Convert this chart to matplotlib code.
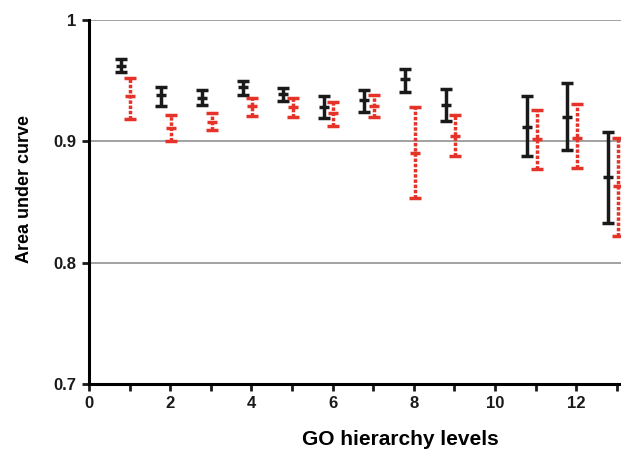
import matplotlib
matplotlib.use("Agg")
import matplotlib.pyplot as plt
import numpy as np

plt.rcParams['font.family'] = ['Liberation Sans', 'DejaVu Sans']
plt.rcParams['font.weight'] = 'bold'

# GO hierarchy levels (no level 10)
levels = [1, 2, 3, 4, 5, 6, 7, 8, 9, 11, 12, 13]

# black series: mean, lower, upper
black_mean = [0.962, 0.938, 0.936, 0.945, 0.939, 0.928, 0.934, 0.951, 0.930, 0.912, 0.920, 0.871]
black_lo = [0.957, 0.929, 0.930, 0.938, 0.933, 0.919, 0.924, 0.941, 0.917, 0.888, 0.893, 0.833]
black_hi = [0.968, 0.945, 0.942, 0.950, 0.944, 0.937, 0.942, 0.960, 0.943, 0.937, 0.948, 0.908]

# red series: mean, lower, upper
red_mean = [0.937, 0.911, 0.916, 0.929, 0.928, 0.923, 0.929, 0.890, 0.904, 0.902, 0.903, 0.863]
red_lo = [0.918, 0.900, 0.909, 0.921, 0.920, 0.913, 0.920, 0.853, 0.888, 0.877, 0.878, 0.822]
red_hi = [0.952, 0.922, 0.923, 0.936, 0.936, 0.932, 0.938, 0.928, 0.922, 0.926, 0.931, 0.903]

lv = np.array(levels, dtype=float)
bm, bl, bh = np.array(black_mean), np.array(black_lo), np.array(black_hi)
rm, rl, rh = np.array(red_mean), np.array(red_lo), np.array(red_hi)

fig = plt.figure(figsize=(6.21, 4.49), dpi=100)
ax = fig.add_axes([0.1433, 0.1448, 0.8567, 0.8107])

for y in [0.8, 0.9, 1.0]:
    ax.axhline(y, color='#9a9a9a', lw=1.3, zorder=0)

ax.errorbar(lv - 0.22, bm, yerr=[bm - bl, bh - bm], fmt='_', color='#1a1a1a',
            ecolor='#1a1a1a', elinewidth=2.5, capsize=4.5, capthick=2.5,
            ms=7, mew=2.5, zorder=3)

eb2 = ax.errorbar(lv + 0.02, rm, yerr=[rm - rl, rh - rm], fmt='_', color='#e6332a',
                  ecolor='#e6332a', elinewidth=2.5, capsize=4.5, capthick=2.5,
                  ms=7, mew=2.5, zorder=3)
eb2[2][0].set_linestyle((0, (1.0, 0.5)))

ax.set_xlim(0, 13.1)
ax.set_ylim(0.7, 1.0)
ax.set_xticks(range(0, 14))
ax.set_xticklabels([str(i) if i % 2 == 0 and i < 13 else '' for i in range(0, 14)])
ax.set_yticks([0.7, 0.8, 0.9, 1.0])
ax.set_yticklabels(['0.7', '0.8', '0.9', '1'])

ax.spines['top'].set_visible(False)
ax.spines['right'].set_visible(False)
ax.spines['left'].set_linewidth(2.2)
ax.spines['bottom'].set_linewidth(2.2)
ax.tick_params(direction='out', length=5, width=2, labelsize=12, pad=4, colors='#1a1a1a')

ax.set_xlabel('GO hierarchy levels', fontsize=15, fontweight='bold')
ax.set_ylabel('Area under curve', fontsize=13, fontweight='bold')
ax.xaxis.set_label_coords(0.586, -0.127)
ax.yaxis.set_label_coords(-0.105, 0.536)

fig.savefig('out.png', dpi=100)
